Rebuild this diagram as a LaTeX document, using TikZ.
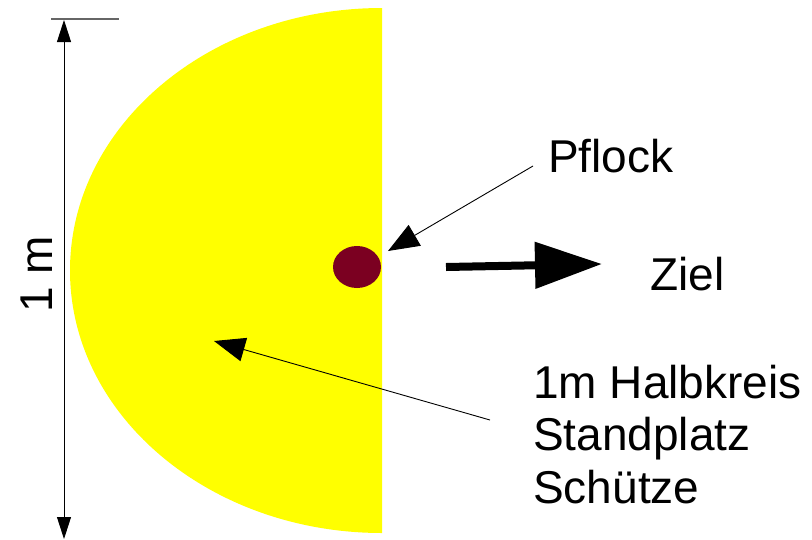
\documentclass[tikz,border=0pt]{standalone}
\usepackage{fontspec}
\setmainfont{Liberation Sans}
\usetikzlibrary{arrows.meta,shapes.geometric}
\definecolor{pflockrot}{RGB}{123,0,33}
\definecolor{platzgelb}{RGB}{255,255,0}

\begin{document}
\begin{tikzpicture}[
  x=1pt, y=-1pt,
  lbl/.style={inner sep=0pt, font=\fontsize{46}{52.5}\selectfont, align=left},
  thinarr/.style={-{Triangle[length=31pt,width=24pt]}, line width=0.9pt},
  dimarr/.style={{Triangle[length=22pt,width=14pt]}-{Triangle[length=22pt,width=14pt]}, line width=0.9pt},
  bigarr/.style={-{Triangle[length=67pt,width=45pt]}, line width=8pt}
]
\useasboundingbox (0,0) rectangle (812,539);

% Standplatz (Halbkreis)
\fill[platzgelb] (382,533) arc[start angle=-90, end angle=-270, x radius=312pt, y radius=262.5pt] -- cycle;
\node[ellipse, fill=pflockrot, minimum width=48pt, minimum height=42pt, inner sep=0pt] (pflock) at (357,267) {};

% Beschriftungen
\node[lbl, anchor=base west] (pflocktxt) at (548,172) {Pflock};
\node[lbl, anchor=base west] (zieltxt) at (650,290) {Ziel};
\node[lbl, anchor=base west] (kreistxt) at (533,503) {1m Halbkreis\\Standplatz\\Schütze};
\node[lbl, anchor=base, rotate=90] (metertxt) at (52,274) {1 m};

% Pfeile
\coordinate (pflockstart) at (533,166);
\coordinate (pflockend) at (388,251);
\coordinate (kreisstart) at (490,420);
\coordinate (kreisend) at (214,341);
\coordinate (zielstart) at (446,267);
\coordinate (zielend) at (602,264);
\draw[thinarr] (pflockstart) -- (pflockend);
\draw[thinarr] (kreisstart) -- (kreisend);
\draw[bigarr] (zielstart) -- (zielend);

% Masslinie
\coordinate (dimtop) at (64,20);
\coordinate (dimbot) at (64,539);
\draw[line width=1.5pt, black!60] (51,19) -- (119,19);
\draw[dimarr] (dimtop) -- (dimbot);
\end{tikzpicture}
\end{document}
